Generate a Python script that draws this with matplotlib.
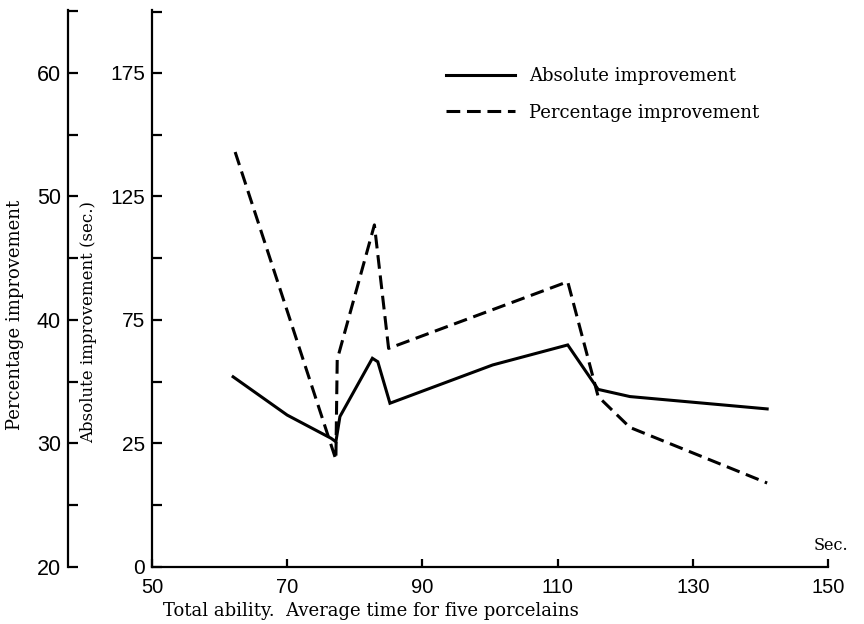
import matplotlib
matplotlib.use('Agg')
import matplotlib.pyplot as plt

# values
abs_x = [62, 70, 76.5, 77.2, 77.8, 82.6, 83.4, 85.2, 100.4, 111.5, 116, 120.7, 141]
abs_y = [52.0, 36.5, 27.1, 25.7, 35.9, 59.5, 58.1, 41.3, 56.8, 64.9, 46.9, 44.0, 39.0]
pct_x = [62.3, 77.2, 77.4, 82.9, 85.0, 111.5, 116, 120.7, 141]
pct_y = [53.6, 28.7, 36.8, 47.7, 37.7, 43.1, 33.8, 31.3, 26.8]

x_ticks = [50, 70, 90, 110, 130, 150]
abs_tick_labels = ['0', '25', '75', '125', '175']
pct_ticks = [20, 30, 40, 50, 60]

serif = 'DejaVu Serif'
sans = 'Liberation Sans'

fig = plt.figure(figsize=(8.64, 6.24), dpi=100)
ax = fig.add_axes([152 / 864, 1 - 567 / 624, (828 - 152) / 864, (567 - 10) / 624])

# inner axis: absolute improvement (bottom label "0" sits at a broken step)
ax.set_xlim(50, 150)
ax.set_ylim(-25, 200.5)
ax.plot(abs_x, abs_y, color='black', lw=2.2, solid_joinstyle='miter',
        label='Absolute improvement')

for s in ['top', 'right']:
    ax.spines[s].set_visible(False)
for s in ['left', 'bottom']:
    ax.spines[s].set_linewidth(1.6)

ax.set_xticks(x_ticks)
ax.set_xticklabels([str(v) for v in x_ticks], fontfamily=sans, fontsize=14.5)
ax.tick_params(axis='x', direction='in', length=6, width=1.6, pad=8)
ax.set_yticks([-25, 25, 75, 125, 175])
ax.set_yticklabels(abs_tick_labels, fontfamily=sans, fontsize=15)
ax.set_yticks([0, 50, 100, 150, 199.5], minor=True)
ax.tick_params(axis='y', which='both', direction='in', length=7, width=1.6, pad=5)

# outer axis: percentage improvement
axp = ax.twinx()
axp.set_ylim(20, 65.1)
axp.plot(pct_x, pct_y, color='black', lw=2.2, dashes=(4.5, 2.2),
         label='Percentage improvement')
for s in ['top', 'right', 'bottom']:
    axp.spines[s].set_visible(False)
axp.spines['left'].set_visible(True)
axp.spines['left'].set_position(('outward', 60.5))
axp.spines['left'].set_linewidth(1.6)
axp.yaxis.set_ticks_position('left')
axp.yaxis.set_label_position('left')
axp.set_yticks(pct_ticks)
axp.set_yticklabels([str(v) for v in pct_ticks], fontfamily=sans, fontsize=15.5)
axp.set_yticks([25, 35, 45, 55, 65.0], minor=True)
axp.tick_params(axis='y', which='both', direction='in', length=7, width=1.6, pad=5)

# axis titles
fig.text(15 / 864, 1 - 315 / 624, 'Percentage improvement', rotation=90,
         ha='center', va='center', fontfamily=serif, fontsize=13)
fig.text(89 / 864, 1 - 322 / 624, 'Absolute improvement (sec.)', rotation=90,
         ha='center', va='center', fontfamily=serif, fontsize=12)
fig.text(371 / 864, 1 - 611 / 624, 'Total ability.  Average time for five porcelains',
         ha='center', va='center', fontfamily=serif, fontsize=13)
fig.text(831 / 864, 1 - 546 / 624, 'Sec.', ha='center', va='center',
         fontfamily=serif, fontsize=11.5)

# legend
h1, l1 = ax.get_legend_handles_labels()
h2, l2 = axp.get_legend_handles_labels()
axp.legend(h1 + h2, l1 + l2, loc='upper left', bbox_to_anchor=(0.411, 0.926),
           frameon=False, handlelength=3.8, handletextpad=0.8, labelspacing=1.0,
           prop={'family': serif, 'size': 13})

fig.savefig('out.png', dpi=100)
